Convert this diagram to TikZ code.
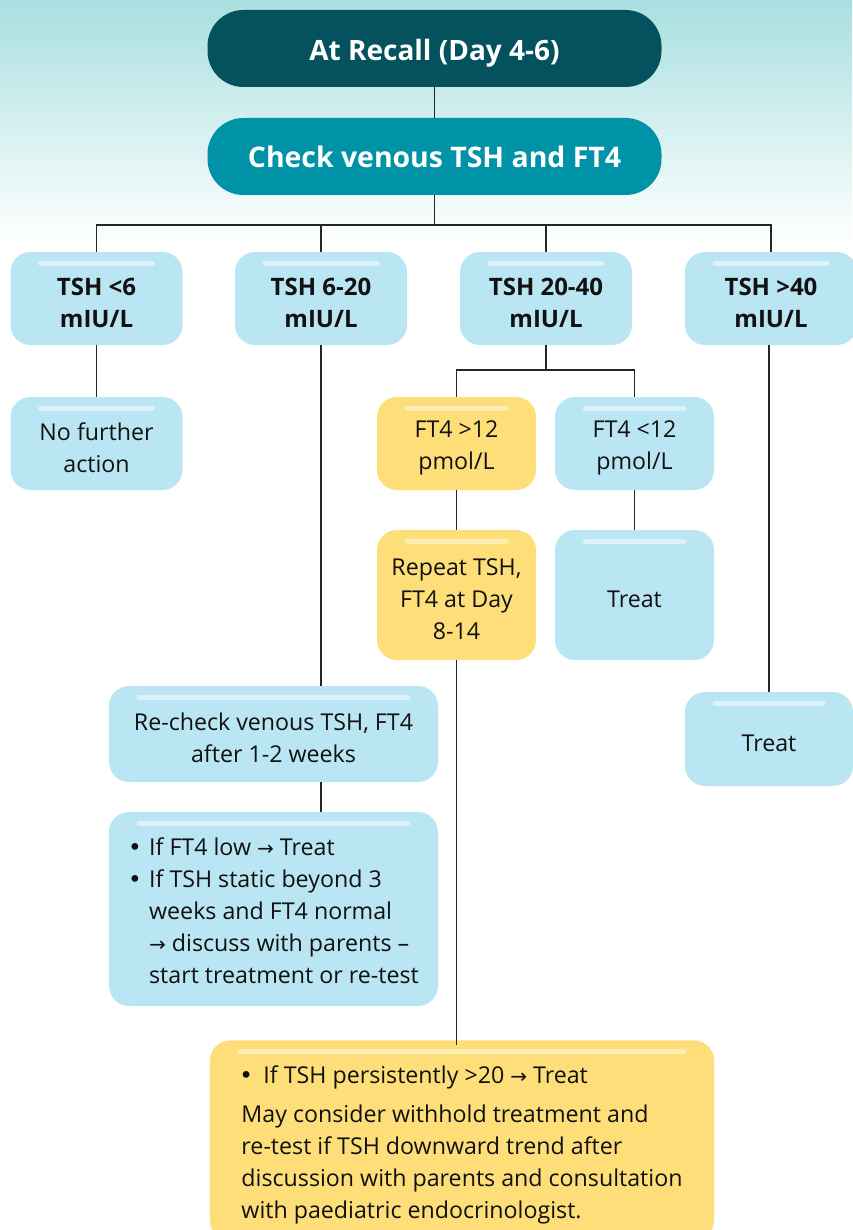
\documentclass[tikz,border=0pt]{standalone}
\usepackage{fontspec}
\setmainfont{Open Sans}
\newfontfamily\arrowfont{DejaVu Sans}
\usetikzlibrary{positioning}
\definecolor{bgteal}{HTML}{A9DFE0}
\definecolor{darkteal}{HTML}{03525E}
\definecolor{midteal}{HTML}{0093A7}
\definecolor{paleblue}{HTML}{BAE5F2}
\definecolor{stripeblue}{HTML}{DCF1F8}
\definecolor{softyellow}{HTML}{FDDE78}
\definecolor{stripeyellow}{HTML}{FDEDB3}
\definecolor{inktext}{HTML}{111111}
\newcommand{\rarr}{{\arrowfont\fontsize{10}{16}\selectfont →}}
\newcommand{\bdot}{{\arrowfont •}}
\newcommand{\lift}{\rule{0pt}{13pt}}
\tikzset{
  headbox/.style={fill=#1, rounded corners=18pt, minimum width=227pt,
    minimum height=38.5pt, text=white},
  card/.style={fill=#1, rounded corners=10pt, text=inktext, align=center,
    font=\fontsize{11.6}{16}\selectfont},
  stripe/.style={path picture={
    \draw[line width=2.5pt, line cap=round, #1]
      ([xshift=15pt,yshift=-5.5pt]path picture bounding box.north west) --
      ([xshift=-15pt,yshift=-5.5pt]path picture bounding box.north east);}},
  bluecard/.style={card=paleblue, stripe=stripeblue},
  yellowcard/.style={card=softyellow, stripe=stripeyellow},
  rangecard/.style={bluecard, font=\bfseries\fontsize{12}{16}\selectfont,
    minimum width=86pt, minimum height=46.5pt},
  link/.style={draw=black!85, line width=0.6pt}
}
\begin{document}
\begin{tikzpicture}[x=0.5pt, y=-0.5pt]
\useasboundingbox (0,0) rectangle (852,1230);
\shade[top color=bgteal, bottom color=white] (0,0) rectangle (852,245);

% top of the chart
\node[headbox=darkteal, font=\bfseries\fontsize{14}{16}\selectfont] (recall) at (434.5,48.5) {\rule{0pt}{15pt}At Recall (Day 4-6)};
\node[headbox=midteal, font=\bfseries\fontsize{14.2}{16}\selectfont] (check) at (434.5,156.5) {Check venous TSH and FT4};
\coordinate (bus) at (434.5,225);

% first level: TSH ranges
\node[rangecard] (tshA) at (96.5,298.5) {\lift TSH <6\\mIU/L};
\node[rangecard] (tshB) at (321,298.5) {\lift TSH 6-20\\mIU/L};
\node[rangecard] (tshC) at (546,298.5) {\lift TSH 20-40\\mIU/L};
\node[rangecard] (tshD) at (771,298.5) {\lift TSH >40\\mIU/L};

% TSH <6
\node[bluecard, minimum width=86pt, minimum height=46.5pt] (nofurther) at (96.5,443.5) {\lift No further\\action};

% TSH 20-40
\coordinate (fork) at (546,370);
\node[yellowcard, minimum width=79.5pt, minimum height=46.5pt] (ftHigh) at (456.5,443.5) {\lift FT4 >12\\pmol/L};
\node[bluecard, minimum width=79.5pt, minimum height=46.5pt] (ftLow) at (634.5,443.5) {\lift FT4 <12\\pmol/L};
\node[yellowcard, minimum width=79.5pt, minimum height=65pt] (repeat) at (456.5,595) {\lift Repeat TSH,\\FT4 at Day\\8-14};
\node[bluecard, minimum width=79.5pt, minimum height=65pt] (treatC) at (634.5,595) {\lift Treat};

% TSH >40
\node[bluecard, minimum width=84pt, minimum height=47pt] (treatD) at (769,739) {\lift Treat};

% TSH 6-20
\node[bluecard, minimum width=164.5pt, minimum height=48pt] (recheck) at (273.5,734) {\lift Re-check venous TSH, FT4\\after 1-2 weeks};
\node[bluecard, minimum width=164.5pt, minimum height=97pt, align=left] (advice) at (273.5,909) {%
  \begin{tabular}{@{}l@{}l@{}}
  \rule{0pt}{15pt}\makebox[10.5pt][l]{\bdot} & If FT4 low \rarr\ Treat\\
  \makebox[10.5pt][l]{\bdot} & If TSH static beyond 3\\
   & weeks and FT4 normal\\
   & \rarr\ discuss with parents --\\
   & start treatment or re-test
  \end{tabular}};

% persistent TSH
\node[yellowcard, anchor=north, minimum width=252pt, minimum height=100pt, align=left, inner xsep=15.5pt, inner ysep=8pt] (final) at (462,1040) {%
  \lift\makebox[11pt][l]{\hspace{-1pt}\bdot}If TSH persistently >20 \rarr\ Treat\\[3.5pt]
  May consider withhold treatment and\\
  re-test if TSH downward trend after\\
  discussion with parents and consultation\\
  with paediatric endocrinologist.};

% connectors
\draw[link] (recall) -- (check);
\draw[link] (check) -- (bus);
\draw[link] (tshA.north) |- (bus) -| (tshD.north);
\draw[link] (tshB.north) -- (tshB.north |- bus);
\draw[link] (tshC.north) -- (tshC.north |- bus);
\draw[link] (tshA) -- (nofurther);
\draw[link] (tshB.south) -- (tshB.south |- recheck.north);
\draw[link] (recheck.south -| tshB) -- (advice.north -| tshB);
\draw[link] (tshC) -- (fork);
\draw[link] (ftHigh.north) |- (fork) -| (ftLow.north);
\draw[link] (ftHigh) -- (repeat);
\draw[link] (ftLow) -- (treatC);
\draw[link] (repeat.south) -- ([yshift=-2.5pt]repeat.south |- final.north);
\draw[link] (tshD.south -| treatD) -- (treatD);
\end{tikzpicture}
\end{document}
